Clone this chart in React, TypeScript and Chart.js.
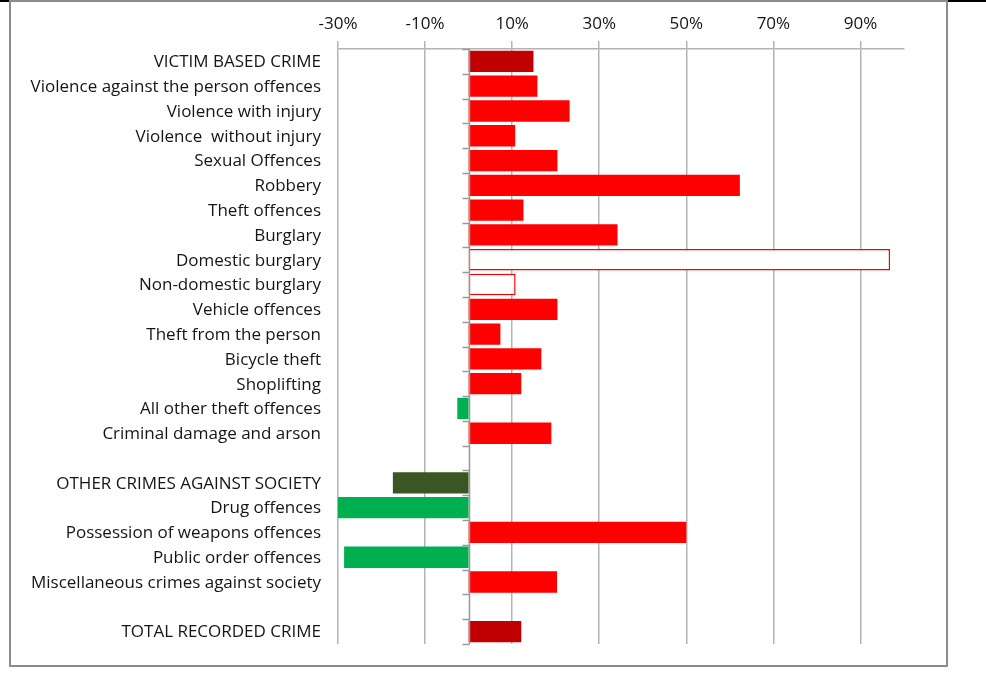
import React, { useEffect, useRef } from "react";
import { Chart, registerables } from "chart.js";

Chart.register(...registerables);

// ---- data ----
const categories: string[] = [
  "VICTIM BASED CRIME",
  "Violence against the person offences",
  "Violence with injury",
  "Violence  without injury",
  "Sexual Offences",
  "Robbery",
  "Theft offences",
  "Burglary",
  "Domestic burglary",
  "Non-domestic burglary",
  "Vehicle offences",
  "Theft from the person",
  "Bicycle theft",
  "Shoplifting",
  "All other theft offences",
  "Criminal damage and arson",
  "",
  "OTHER CRIMES AGAINST SOCIETY",
  "Drug offences",
  "Possession of weapons offences",
  "Public order offences",
  "Miscellaneous crimes against society",
  "",
  "TOTAL RECORDED CRIME",
];

const percentChange: (number | null)[] = [
  14.9, 15.8, 23.2, 10.7, 20.4, 62.3, 12.6, 34.2, 96.8, 10.8, 20.4, 7.3, 16.7,
  12.1, -2.6, 19.0, null, -17.4, -30.0, 50.0, -28.6, 20.3, null, 12.1,
];

const xTickValues: number[] = [-30, -10, 10, 30, 50, 70, 90];
const xMin = -30;
const xMax = 100;

const headlineRows: string[] = ["VICTIM BASED CRIME", "TOTAL RECORDED CRIME"];
const groupRows: string[] = ["OTHER CRIMES AGAINST SOCIETY"];
const outlineRows: string[] = ["Domestic burglary", "Non-domestic burglary"];

// ---- styles ----
const RED = "#ff0000";
const DARK_RED = "#c00000";
const GREEN = "#00b050";
const DARK_GREEN = "#3a5723";
const GRID = "#b4b4b4";
const AXIS = "#999999";
const TEXT = "#151515";
const FONT = { family: "'Open Sans', 'Noto Sans', sans-serif", size: 17 };

function fillFor(label: string, v: number | null): string {
  if (v === null) return "rgba(0,0,0,0)";
  if (outlineRows.includes(label)) return "#ffffff";
  if (v < 0) return groupRows.includes(label) ? DARK_GREEN : GREEN;
  return headlineRows.includes(label) ? DARK_RED : RED;
}

const zeroAxisPlugin = {
  id: "zeroAxis",
  afterDatasetsDraw(chart: any) {
    const { ctx, chartArea } = chart;
    const x = chart.scales.x;
    const y = chart.scales.y;
    const x0 = Math.round(x.getPixelForValue(0)) + 0.5;
    const n = categories.length;
    ctx.save();
    ctx.strokeStyle = AXIS;
    ctx.lineWidth = 1.5;
    ctx.beginPath();
    ctx.moveTo(x0, chartArea.top);
    ctx.lineTo(x0, chartArea.bottom);
    for (let i = 0; i <= n; i++) {
      const py = Math.round(y.getPixelForValue(i - 0.5)) + 0.5;
      ctx.moveTo(x0 - 7, py);
      ctx.lineTo(x0, py);
    }
    ctx.stroke();
    ctx.restore();
  },
};

export default function App() {
  const canvasRef = useRef<HTMLCanvasElement | null>(null);

  useEffect(() => {
    if (!canvasRef.current) return;
    const chart = new Chart(canvasRef.current, {
      type: "bar",
      data: {
        labels: categories,
        datasets: [
          {
            data: percentChange as any,
            backgroundColor: categories.map((c, i) => fillFor(c, percentChange[i])),
            borderColor: categories.map((c) => (outlineRows.includes(c) ? RED : "rgba(0,0,0,0)")),
            borderWidth: categories.map((c) => (outlineRows.includes(c) ? 1.5 : 0)),
            borderSkipped: false,
            categoryPercentage: 1,
            barPercentage: 0.86,
          },
        ],
      },
      options: {
        indexAxis: "y",
        responsive: false,
        animation: false,
        layout: { padding: { left: 0, top: 0, right: 82, bottom: 33 } },
        plugins: {
          legend: { display: false },
          tooltip: { enabled: false },
          title: { display: false },
        },
        scales: {
          x: {
            type: "linear",
            position: "top",
            min: xMin,
            max: xMax,
            afterBuildTicks: (s: any) => {
              s.ticks = xTickValues.map((v) => ({ value: v }));
            },
            afterFit: (s: any) => {
              s.height = 49;
            },
            ticks: {
              callback: (v: any) => `${v}%`,
              font: FONT,
              color: TEXT,
              padding: 7,
              maxRotation: 0,
              autoSkip: false,
            },
            grid: { color: GRID, lineWidth: 1.5, drawTicks: true, tickLength: 8 },
            border: { display: true, color: GRID, width: 1.5 },
          },
          y: {
            type: "category",
            position: "left",
            offset: true,
            afterFit: (s: any) => {
              s.width = 338;
            },
            ticks: {
              font: FONT,
              color: TEXT,
              padding: 17,
              labelOffset: 1,
              autoSkip: false,
            },
            grid: { display: false, drawTicks: false },
            border: { display: false },
          },
        },
      },
      plugins: [zeroAxisPlugin],
    } as any);
    return () => chart.destroy();
  }, []);

  return (
    <div
      style={{
        position: "absolute",
        left: 0,
        top: 0,
        width: 986,
        height: 677,
        background: "#ffffff",
        overflow: "hidden",
      }}
    >
      <div style={{ position: "absolute", left: 0, top: 0, width: 10, height: 2, background: "#000" }} />
      <div style={{ position: "absolute", left: 947, top: 0, width: 39, height: 2, background: "#000" }} />
      <div
        style={{
          position: "absolute",
          left: 9,
          top: 0,
          width: 935,
          height: 663,
          border: "2px solid #8c8c8c",
        }}
      />
      <canvas
        ref={canvasRef}
        width={986}
        height={677}
        style={{ position: "absolute", left: 0, top: 0, width: 986, height: 677 }}
      />
    </div>
  );
}
